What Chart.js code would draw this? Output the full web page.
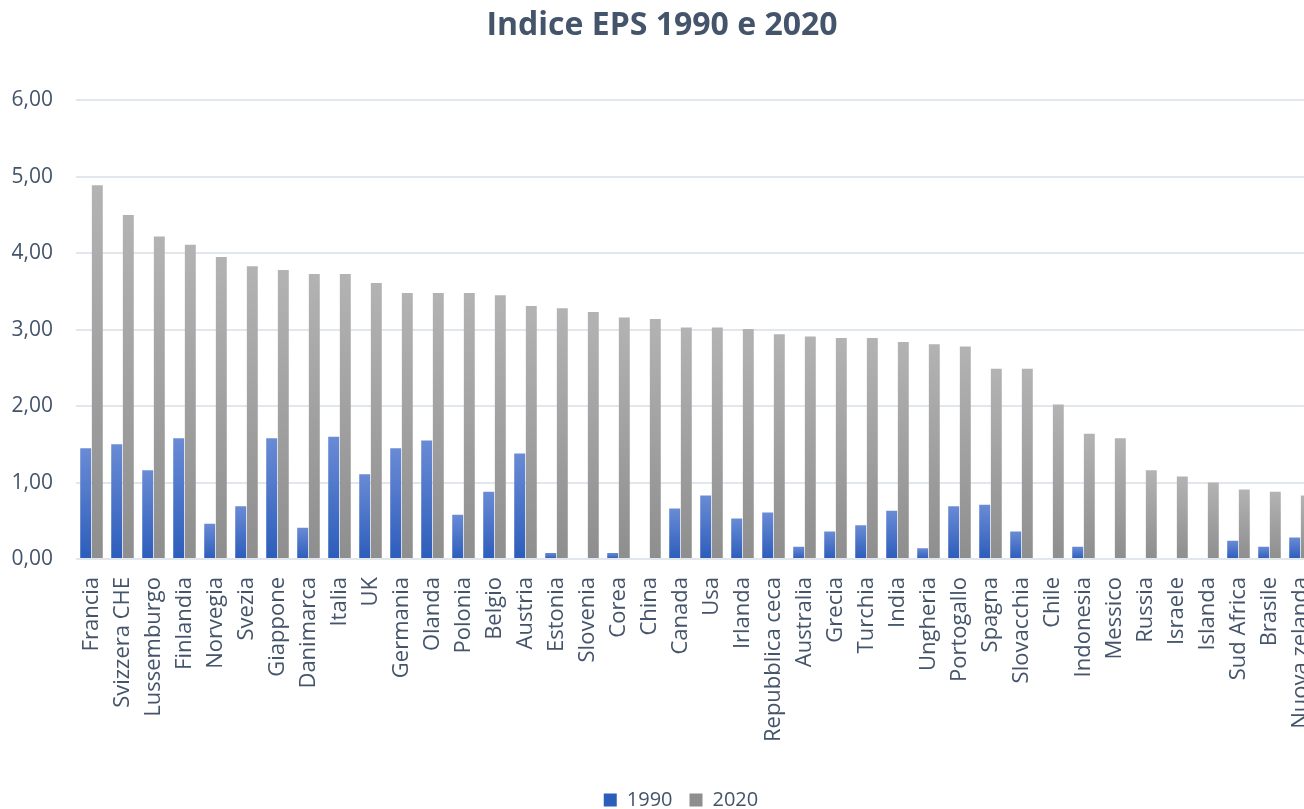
<!DOCTYPE html>
<html lang="it">
<head>
<meta charset="utf-8">
<title>Indice EPS 1990 e 2020</title>
<script src="https://cdn.jsdelivr.net/npm/chart.js@4/dist/chart.umd.min.js"></script>
<style>
  html, body { margin: 0; padding: 0; background: #fff; overflow: hidden; }
  #wrap { position: relative; width: 1316px; height: 809px; }
</style>
</head>
<body>
<div id="wrap"><canvas id="epsChart"></canvas></div>
<script>
// Paesi e valori dell'indice EPS
const paesi = ['Francia', 'Svizzera CHE', 'Lussemburgo', 'Finlandia', 'Norvegia', 'Svezia', 'Giappone', 'Danimarca', 'Italia', 'UK',
  'Germania', 'Olanda', 'Polonia', 'Belgio', 'Austria', 'Estonia', 'Slovenia', 'Corea', 'China', 'Canada',
  'Usa', 'Irlanda', 'Repubblica ceca', 'Australia', 'Grecia', 'Turchia', 'India', 'Ungheria', 'Portogallo', 'Spagna',
  'Slovacchia', 'Chile', 'Indonesia', 'Messico', 'Russia', 'Israele', 'Islanda', 'Sud Africa', 'Brasile', 'Nuova zelanda'];

const eps1990 = [1.45, 1.50, 1.16, 1.58, 0.46, 0.69, 1.58, 0.41, 1.60, 1.11,
  1.45, 1.55, 0.58, 0.88, 1.38, 0.08, 0, 0.08, 0, 0.66,
  0.83, 0.53, 0.61, 0.16, 0.36, 0.44, 0.63, 0.14, 0.69, 0.71,
  0.36, 0, 0.16, 0, 0, 0, 0, 0.24, 0.16, 0.28];

const eps2020 = [4.89, 4.50, 4.22, 4.11, 3.95, 3.83, 3.78, 3.73, 3.73, 3.61,
  3.48, 3.48, 3.48, 3.45, 3.31, 3.28, 3.23, 3.16, 3.14, 3.03,
  3.03, 3.01, 2.94, 2.91, 2.89, 2.89, 2.84, 2.81, 2.78, 2.49,
  2.49, 2.02, 1.64, 1.58, 1.16, 1.08, 1.00, 0.91, 0.88, 0.83];

const serie = ['1990', '2020'];
const yTicks = [0, 1, 2, 3, 4, 5, 6];

const testo = '#44546a';
const font = "'Open Sans', 'Noto Sans', sans-serif";

// sfumatura verticale per ogni barra (chiaro in alto, scuro in basso)
function sfumatura(alto, basso) {
  return function(ctx) {
    const chart = ctx.chart;
    const y = chart.scales && chart.scales.y;
    if (ctx.type !== 'data' || !chart.chartArea || !y) return basso;
    const y0 = y.getPixelForValue(ctx.raw);
    const y1 = y.getPixelForValue(0);
    if (!isFinite(y0) || y1 - y0 < 1) return basso;
    const g = chart.ctx.createLinearGradient(0, y0, 0, y1);
    g.addColorStop(0, alto);
    g.addColorStop(1, basso);
    return g;
  };
}

// la legenda ha bisogno di spazio orizzontale tra le voci ma deve stare in fondo:
// dopo il layout la si sposta in basso (e un po' a destra)
const legendaInFondo = {
  id: 'legendaInFondo',
  afterLayout(chart) {
    const l = chart.legend;
    if (!l) return;
    const pad = l.options.labels.padding;
    const shift = 800 - (l.top + pad + 10);
    l.top += shift;
    l.bottom += shift;
    l.left += 19;
    l.right += 19;
  }
};

new Chart(document.getElementById('epsChart'), {
  type: 'bar',
  data: {
    labels: paesi,
    datasets: [
      { label: serie[0], data: eps1990, backgroundColor: sfumatura('#6a8bd5', '#2c5dbb') },
      { label: serie[1], data: eps2020, backgroundColor: sfumatura('#b3b3b3', '#8e8e8e') }
    ]
  },
  plugins: [legendaInFondo],
  options: {
    responsive: true,
    maintainAspectRatio: false,
    animation: false,
    categoryPercentage: 0.75,
    barPercentage: 0.94,
    layout: { padding: { left: 8, right: 0, top: 0, bottom: 0 } },
    plugins: {
      title: {
        display: true,
        text: 'Indice EPS 1990 e 2020',
        color: testo,
        font: { family: font, size: 32, weight: 'bold' },
        padding: { top: 7, bottom: 55 }
      },
      legend: {
        position: 'bottom',
        labels: {
          color: testo,
          font: { family: font, size: 20 },
          boxWidth: 13,
          boxHeight: 13,
          padding: 17
        }
      },
      tooltip: { enabled: false }
    },
    scales: {
      x: {
        grid: { display: false },
        border: { display: false },
        ticks: {
          color: testo,
          font: { family: font, size: 22 },
          autoSkip: false,
          minRotation: 90,
          maxRotation: 90,
          padding: 10
        },
        afterFit: function(scale) {
          scale.height = 203;
          // l'area del grafico arriva fino al bordo destro
          scale.paddingLeft = 0;
          scale.paddingRight = 0;
        }
      },
      y: {
        min: 0,
        max: 6,
        afterBuildTicks: function(scale) { scale.ticks = yTicks.map(v => ({ value: v })); },
        grid: { color: '#e2e6ed', lineWidth: 2, drawTicks: false },
        border: { display: false },
        ticks: {
          color: testo,
          font: { family: font, size: 21 },
          padding: 23,
          callback: v => v.toFixed(2).replace('.', ',')
        },
        afterFit: function(scale) { scale.width = 68; }
      }
    }
  }
});
</script>
</body>
</html>
